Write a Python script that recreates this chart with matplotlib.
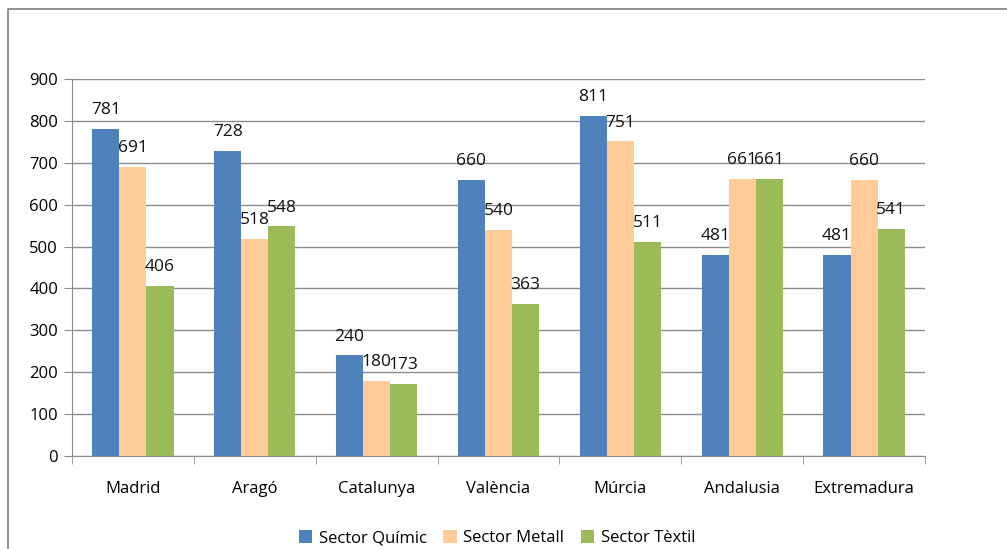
import numpy as np
from matplotlib import pyplot as plt
from matplotlib.lines import Line2D

regions = ['Madrid', 'Aragó', 'Catalunya', 'València', 'Múrcia', 'Andalusia', 'Extremadura']
quimic = [781, 728, 240, 660, 811, 481, 481]
metall = [691, 518, 180, 540, 751, 661, 660]
textil = [406, 548, 173, 363, 511, 661, 541]
series_names = ['Sector Químic', 'Sector Metall', 'Sector Tèxtil']
colors = ['#4F81BD', '#FFCC99', '#9BBB59']

plt.rcParams['font.family'] = ['Open Sans', 'DejaVu Sans']

W, H = 1007, 549
fig = plt.figure(figsize=(W / 100, H / 100), dpi=100)
ax = fig.add_axes([72 / W, 1 - 456 / H, (925 - 72) / W, (456 - 79) / H])

x = np.arange(len(regions))
w = 1 / 4.5
for i, (vals, name, c) in enumerate(zip([quimic, metall, textil], series_names, colors)):
    bars = ax.bar(x + (i - 1) * w, vals, w, color=c, label=name, zorder=3)
    for b, v in zip(bars, vals):
        ax.text(b.get_x() + b.get_width() / 2, v + 26, str(v), ha='center', va='bottom',
                fontsize=12.5, color='#111111', zorder=4)

ax.set_xlim(-0.5, len(regions) - 0.5)
ax.set_ylim(0, 900)
ax.set_yticks(range(0, 901, 100))
ax.yaxis.grid(True, color='#8C8C8C', linewidth=1, zorder=0)
ax.set_xticks(x)
ax.set_xticklabels(regions)
ax.set_xticks(np.arange(-0.5, len(regions)), minor=True)
ax.tick_params(axis='x', which='major', length=0, pad=18, labelsize=12)
ax.tick_params(axis='x', which='minor', length=6, color='#8C8C8C', direction='out')
ax.tick_params(axis='y', length=6, color='#8C8C8C', labelsize=12, pad=4)
for s in ['top', 'right']:
    ax.spines[s].set_visible(False)
for s in ['left', 'bottom']:
    ax.spines[s].set_color('#8C8C8C')

ax.legend(loc='center', bbox_to_anchor=(497 / W, 1 - 538 / H), bbox_transform=fig.transFigure,
          ncol=3, frameon=False, fontsize=12, handlelength=0.8, handleheight=0.8,
          handletextpad=0.4, columnspacing=1.0)

# outer chart border (top and left visible)
fig.add_artist(Line2D([8 / W, 8 / W, 1.0], [0.0, 1 - 9 / H, 1 - 9 / H],
                      transform=fig.transFigure, color='#808080', linewidth=1.2))

fig.savefig('out.png', dpi=100)
